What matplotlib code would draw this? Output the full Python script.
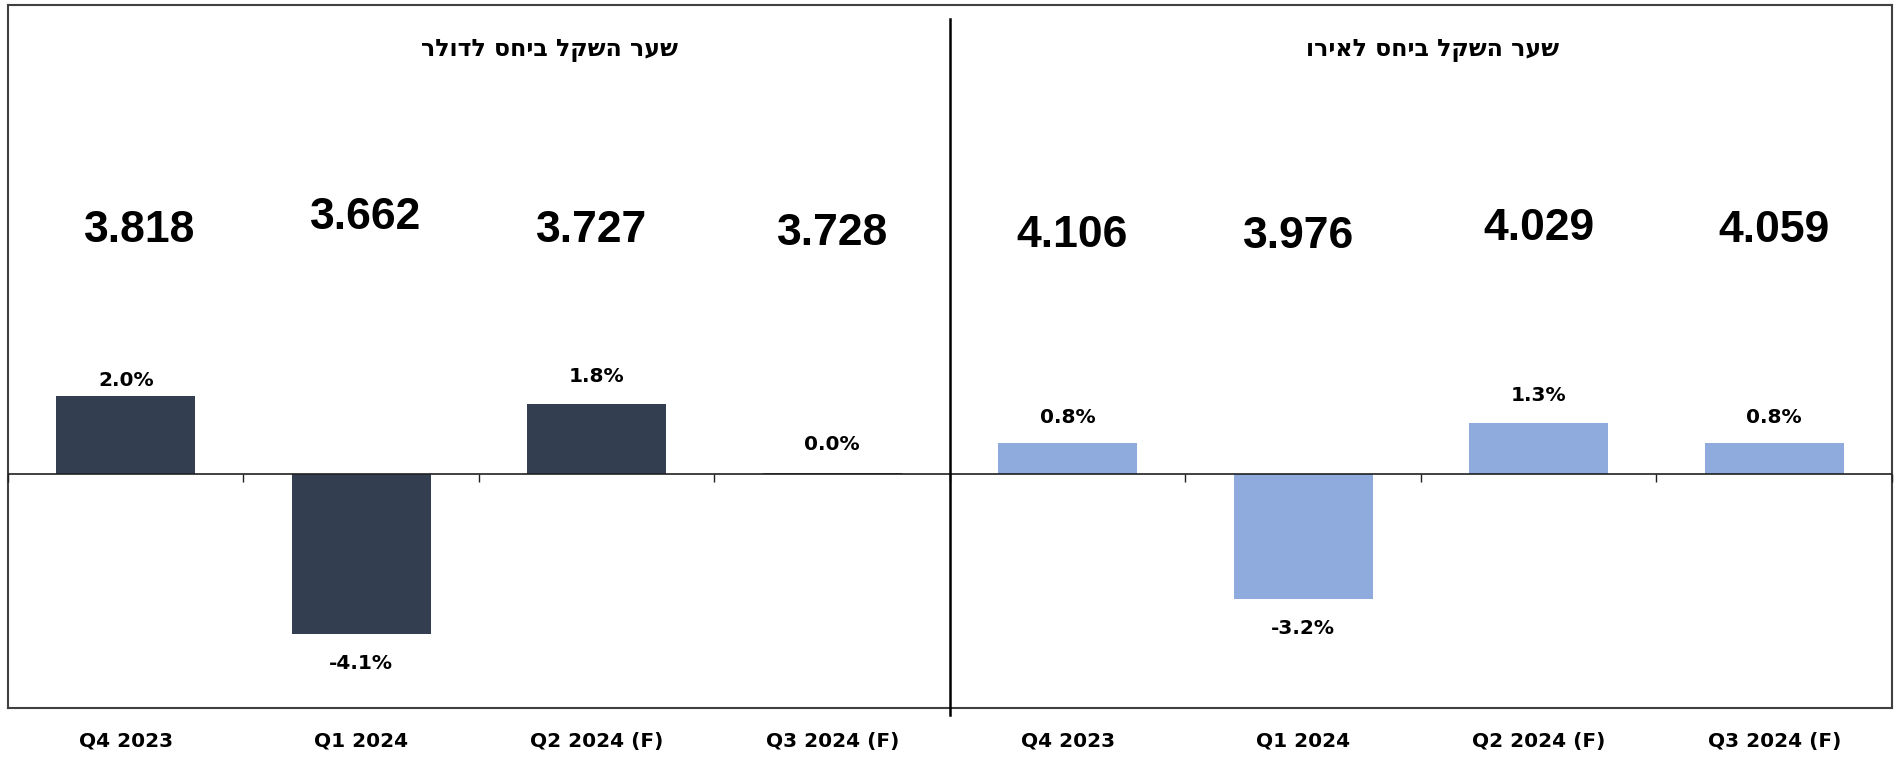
import matplotlib
matplotlib.use('Agg')
import matplotlib.pyplot as plt
import matplotlib.transforms as mtransforms
import numpy as np

# ---- data ----
categories = ['Q4 2023', 'Q1 2024', 'Q2 2024 (F)', 'Q3 2024 (F)']
usd_change = [2.0, -4.1, 1.8, 0.03]          # % change, shekel vs dollar
eur_change = [0.8, -3.2, 1.3, 0.8]           # % change, shekel vs euro
usd_rate = ['3.818', '3.662', '3.727', '3.728']
eur_rate = ['4.106', '3.976', '4.029', '4.059']
title_usd = 'שער השקל ביחס לדולר'
title_eur = 'שער השקל ביחס לאירו'

# ---- style / layout ----
W, H = 1899, 758
color_usd = '#333F50'
color_eur = '#8FAADC'
rate_label_y = [6.23, 6.56, 6.23, 6.17, 6.10, 6.07, 6.28, 6.23]   # positions (data units)
rate_label_dx = [0.06, 0.02, -0.02, 0, 0.02, -0.02, 0, 0]          # small horizontal shifts
pct_offset_px = [15, 30, 27, 28, 25, 30, 28, 25]                  # label distance from bar end

fig = plt.figure(figsize=(W / 100, H / 100), dpi=100)
left, right, top, bottom = 8, 1892, 5.5, 708
ax = fig.add_axes([left / W, (H - bottom) / H, (right - left) / W, (bottom - top) / H])

values = usd_change + eur_change
colors = [color_usd] * len(usd_change) + [color_eur] * len(eur_change)
labels = categories + categories
rates = usd_rate + eur_rate
x = np.arange(len(values))

ax.bar(x, values, width=0.59, color=colors, zorder=2)
ax.set_xlim(-0.5, len(values) - 0.5)
ax.set_ylim(-6, 12)
ax.set_xticks([])
ax.set_yticks([])
for s in ax.spines.values():
    s.set_color('#404040')
    s.set_linewidth(1.5)

# zero line and tick marks at category boundaries
ax.axhline(0, color='#202020', lw=1.2, zorder=3)
tick_len = 8 / ((bottom - top) / 18)
ax.vlines(np.arange(len(values) + 1) - 0.5, -tick_len, 0, color='#202020', lw=1.0,
          zorder=3, clip_on=False)

# separator between panels
ax.plot([3.5, 3.5], [-6.17, 11.66], color='black', lw=1.8, clip_on=False, zorder=4)

# percent labels
for xi, v, off in zip(x, values, pct_offset_px):
    sign = 1 if v >= 0 else -1
    ax.annotate(f'{v:.1f}%', (xi, v), xytext=(0, sign * off * 0.72), textcoords='offset points',
                ha='center', va='center', fontsize=14.5, fontweight='bold',
                family=['DejaVu Sans'], color='black')

# big rate numbers
for xi, r, yy, dx in zip(x, rates, rate_label_y, rate_label_dx):
    ax.text(xi + dx, yy, r, ha='center', va='center', fontsize=32, fontweight='bold',
            family=['Liberation Sans', 'DejaVu Sans'], color='black')

# category labels below the box
trans = mtransforms.blended_transform_factory(ax.transData, ax.transAxes)
for xi, lab in zip(x, labels):
    ax.text(xi, -(741 - bottom) / (bottom - top), lab, transform=trans, ha='center', va='center',
            fontsize=14.5, fontweight='bold', family=['DejaVu Sans'])

# panel titles (Hebrew, reversed for left-to-right rendering)
title_y = (bottom - 50) / (bottom - top)
ax.text(1.80, title_y, title_usd[::-1], transform=trans, ha='center',
        va='center', fontsize=17, fontweight='bold', family=['DejaVu Sans'])
ax.text(5.55, title_y, title_eur[::-1], transform=trans, ha='center',
        va='center', fontsize=17, fontweight='bold', family=['DejaVu Sans'])

fig.savefig('out.png', dpi=100)
